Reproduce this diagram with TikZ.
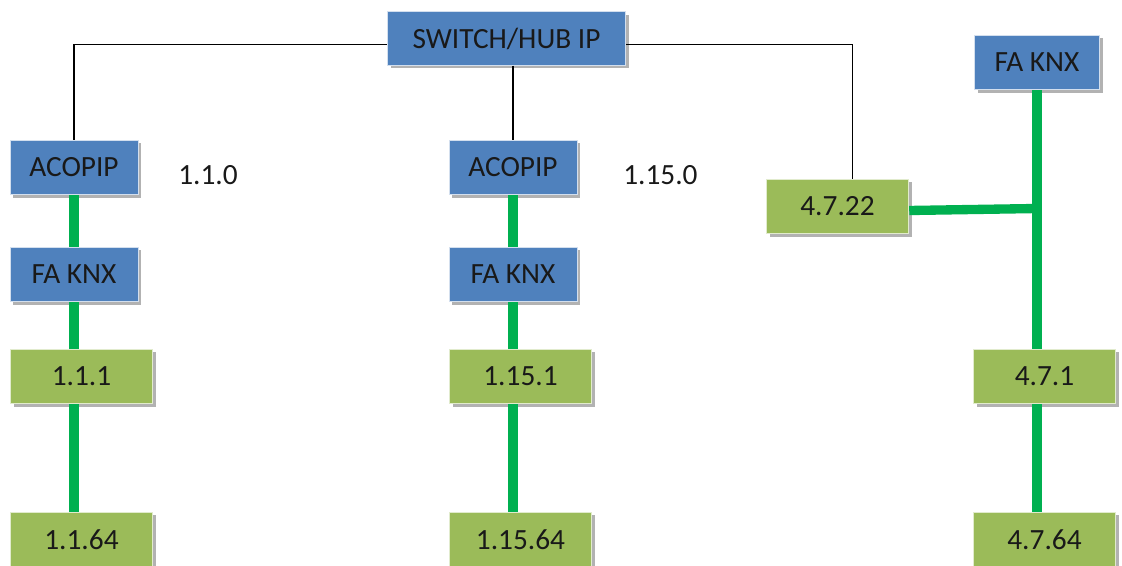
\documentclass[tikz,border=0pt]{standalone}
\usepackage{fontspec}
\setmainfont{Carlito}
\usepackage{xcolor}
\usetikzlibrary{positioning,shadows,calc}

\definecolor{knxblue}{HTML}{4F81BD}
\definecolor{knxgreen}{HTML}{9BBB59}
\definecolor{buslink}{HTML}{00B050}

\tikzset{
  boxbase/.style={draw=white!75!knxblue, line width=0.6pt, minimum height=41pt,
    inner sep=0pt, font=\fontsize{22}{26}\selectfont, text=black!90,
    drop shadow={shadow xshift=2.5pt, shadow yshift=-2.5pt, fill=black, opacity=0.3}},
  ipbox/.style={boxbase, fill=knxblue, minimum width=96pt},
  linebox/.style={boxbase, fill=knxgreen, minimum width=107pt, draw=white!70!knxgreen},
  ethernet/.style={draw=black, line width=0.8pt},
  knxbus/.style={draw=buslink, line width=7pt}
}

\begin{document}
\begin{tikzpicture}[x=0.75pt,y=-0.75pt]
\useasboundingbox (0,0) rectangle (1122,566);

% Backbone switch
\node[ipbox, minimum width=179pt, minimum height=40pt] (sw) at (506.5,38.5) {SWITCH/HUB IP};

% Two IP line couplers with their lines
\foreach \c/\x/\d/\n in {l/74/104/1.1, m/513/110/1.15} {
    \node[ipbox] (ac\c) at (\x,167.5) {ACOPIP};
    \node[ipbox] (fa\c) at (\x,274.5) {FA KNX};
    \node[linebox] (ga\c) at (\x+7.5,376.5) {\n.1};
    \node[linebox] (gb\c) at (\x+7.5,539.5) {\n.64};
    \node[font=\fontsize{22}{26}\selectfont, text=black!90, anchor=west, inner sep=0pt] (ad\c) at (\x+\d,175) {\n.0};
    \draw[knxbus] (ac\c.south) -- (fa\c.north);
    \draw[knxbus] (fa\c.south) -- (fa\c.south |- ga\c.north);
    \draw[knxbus] (fa\c.south |- ga\c.south) -- (fa\c.south |- gb\c.north);
}

% Line 4.7 with its own coupler
\node[ipbox, minimum width=94pt] (far) at (1037,62.5) {FA KNX};
\node[linebox] (g22) at (837.5,206.5) {4.7.22};
\node[linebox] (g71) at (1044.5,376.5) {4.7.1};
\node[linebox] (g764) at (1044.5,539.5) {4.7.64};

% Ethernet links
\draw[ethernet] ($(sw.west)+(0,6)$) -| (acl.north);
\draw[ethernet] (sw.south -| acm.north) -- (acm.north);
\draw[ethernet] ($(sw.east)+(0,6)$) -| ($(g22.north)+(15,0)$);

% KNX bus
\draw[knxbus] (far.south) -- (far.south |- g71.north);
\draw[knxbus] (far.south |- g71.south) -- (far.south |- g764.north);
\draw[knxbus] ($(g22.east)+(0,4)$) -- ($(g22.east -| far.south)+(0,2)$);
\end{tikzpicture}
\end{document}
